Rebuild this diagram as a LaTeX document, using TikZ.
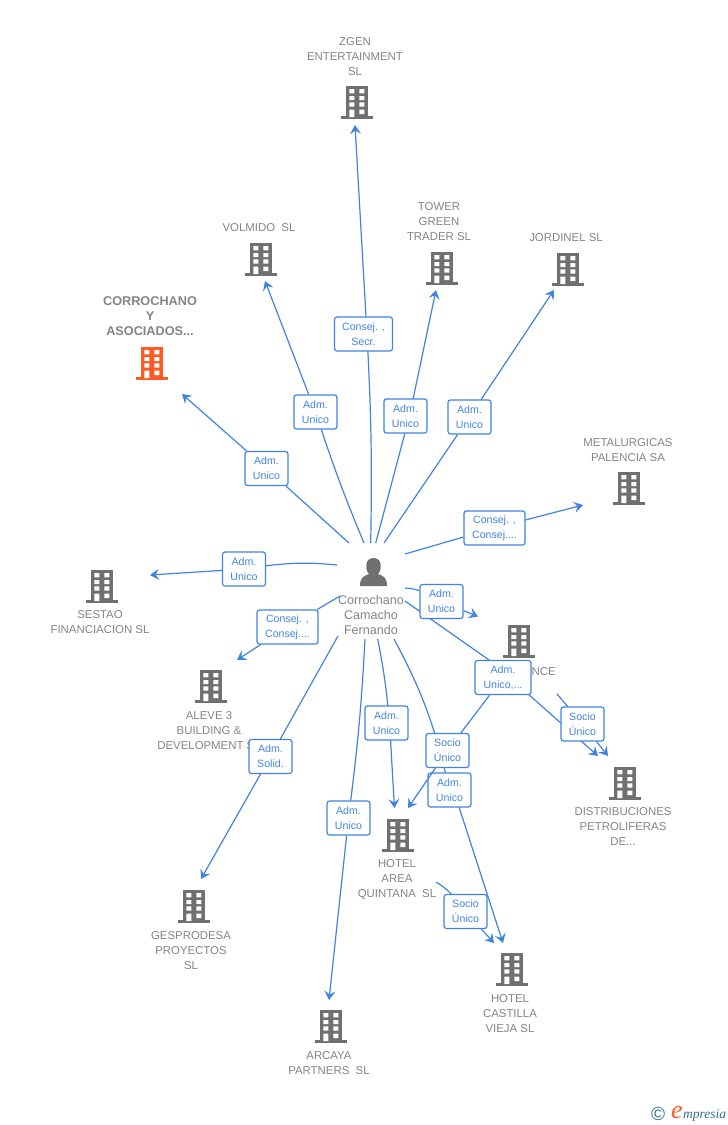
\documentclass[tikz,border=0pt]{standalone}
\usepackage{fontspec}
\usepackage{xcolor}
\usetikzlibrary{arrows.meta}
\setmainfont{Liberation Sans}
\newfontfamily\logofont{Liberation Serif}
\definecolor{link-blue}{HTML}{3F84E3}
\definecolor{firm-gray}{HTML}{707070}
\definecolor{label-gray}{HTML}{858585}
\definecolor{firm-orange}{HTML}{FF5A26}
\definecolor{logo-teal}{HTML}{2F6F8C}
\tikzset{
    link/.style = {draw=link-blue, line width=1.2pt},
    link-end/.style = {link, -{Stealth[length=9pt, width=11pt, inset=3.5pt]}},
    role-box/.style = {draw=link-blue, fill=white, line width=1.2pt, rectangle, rounded corners=2.5pt, minimum width=43pt, minimum height=34pt, inner sep=0pt, align=center, text=link-blue, font=\fontsize{10.6}{15}\selectfont},
    firm-label/.style = {inner sep=0pt, align=center, text=label-gray, font=\fontsize{11.4}{15}\selectfont},
    main-label/.style = {firm-label, font=\fontsize{12.7}{15}\selectfont\bfseries},
    person-label/.style = {firm-label, font=\fontsize{12.6}{15}\selectfont},
    building/.pic = {
        \fill[pic actions] (-11,-33) rectangle (11,-2);
        \fill[pic actions] (-16,-3) rectangle (16,0);
        \fill[white] (-7.7,-30) rectangle (-2.7,-25.7) (2.3,-30) rectangle (7.3,-25.7);
        \fill[white] (-7.7,-23) rectangle (-2.7,-19) (2.3,-23) rectangle (7.3,-19);
        \fill[white] (-7.7,-16.7) rectangle (-2.7,-12.3) (2.3,-16.7) rectangle (7.3,-12.3);
        \fill[white] (-7.7,-9.5) rectangle (-2.7,-2) (2.3,-9.5) rectangle (7.3,-5);
    },
}
\begin{document}
\begin{tikzpicture}[x=1pt, y=-1pt]
\useasboundingbox[fill=white] (0,0) rectangle (728,1125);

\node[firm-label] (zgen) at (355,57) {ZGEN\\ENTERTAINMENT\\SL};
\node[firm-label] (volmido) at (259,228) {VOLMIDO~~SL};
\node[firm-label] (tower) at (439,222) {TOWER\\GREEN\\TRADER SL};
\node[firm-label] (jordinel) at (566,238) {JORDINEL SL};
\node[main-label] (corrochano) at (150,316) {CORROCHANO\\Y\\ASOCIADOS...};
\node[firm-label] (metalurgicas) at (628,450.5) {METALURGICAS\\PALENCIA SA};
\node[firm-label] (sestao) at (100,622.5) {SESTAO\\FINANCIACION SL};
\node[firm-label] (aleve) at (209,731) {ALEVE 3\\BUILDING \&\\DEVELOPMENT S\phantom{L}};
\node[firm-label, anchor=east] (vance) at (556,672) {NCE};
\node[firm-label] (distribuciones) at (623,827) {DISTRIBUCIONES\\PETROLIFERAS\\DE...};
\node[firm-label] (hotel-area) at (397,880) {HOTEL\\AREA\\QUINTANA~~SL};
\node[firm-label] (gesprodesa) at (191,951) {GESPRODESA\\PROYECTOS\\SL};
\node[firm-label] (hotel-castilla) at (510,1014) {HOTEL\\CASTILLA\\VIEJA SL};
\node[firm-label] (arcaya) at (329,1063.5) {ARCAYA\\PARTNERS~~SL};
\node[person-label] (person) at (371,615) {Corrochano\\Camacho\\Fernando};

\pic[fill=firm-gray] (icon-zgen) at (357,119) {building};
\pic[fill=firm-gray] (icon-volmido) at (261,276) {building};
\pic[fill=firm-gray] (icon-tower) at (442,285) {building};
\pic[fill=firm-gray] (icon-jordinel) at (568,286) {building};
\pic[fill=firm-orange] (icon-corrochano) at (152,380) {building};
\pic[fill=firm-gray] (icon-metalurgicas) at (629,505) {building};
\pic[fill=firm-gray] (icon-sestao) at (102,603) {building};
\pic[fill=firm-gray] (icon-aleve) at (211,703) {building};
\pic[fill=firm-gray] (icon-vance) at (519,658) {building};
\pic[fill=firm-gray] (icon-distribuciones) at (625,800) {building};
\pic[fill=firm-gray] (icon-hotel-area) at (398,852) {building};
\pic[fill=firm-gray] (icon-gesprodesa) at (194,923) {building};
\pic[fill=firm-gray] (icon-hotel-castilla) at (512,986) {building};
\pic[fill=firm-gray] (icon-arcaya) at (331,1043) {building};

\fill[firm-gray] (360,586) .. controls (360,577) and (364,576) .. (369,574) .. controls (366,571) and (366,566) .. (366.5,564) .. controls (367,556) and (380,556) .. (380.5,564) .. controls (381,566) and (381,571) .. (378,574) .. controls (383,576) and (387,577) .. (387,586) -- cycle;

\coordinate (start-zgen) at (370.7,543);
\coordinate (via-zgen) at (367,334);
\coordinate (end-zgen) at (355,125);
\coordinate (start-volmido) at (364,543);
\coordinate (end-volmido) at (265,281);
\coordinate (start-tower) at (375.7,543);
\coordinate (via-tower) at (409.5,416);
\coordinate (end-tower) at (436,290);
\coordinate (start-jordinel) at (384,543);
\coordinate (end-jordinel) at (554,290);
\coordinate (start-corrochano) at (349,543);
\coordinate (end-corrochano) at (182,394);
\coordinate (start-metalurgicas) at (405,554);
\coordinate (end-metalurgicas) at (583,505);
\coordinate (start-sestao) at (337,565);
\coordinate (end-sestao) at (150,575);
\coordinate (start-aleve) at (340,596);
\coordinate (end-aleve) at (237,660);
\coordinate (start-gesprodesa) at (338,636);
\coordinate (end-gesprodesa) at (201,879);
\coordinate (start-arcaya) at (365,639);
\coordinate (end-arcaya) at (329,1000);
\coordinate (start-hotel-area) at (377.7,639);
\coordinate (via-hotel-area) at (389.5,723);
\coordinate (end-hotel-area) at (394.5,808);
\coordinate (end-socio-hotel-area) at (408,808);
\coordinate (start-hotel-castilla) at (394,639);
\coordinate (via-hotel-castilla) at (453.5,790);
\coordinate (end-hotel-castilla) at (503,943);
\coordinate (start-socio-castilla) at (436,882);
\coordinate (end-socio-castilla) at (494,943);
\coordinate (start-vance) at (405,588);
\coordinate (end-vance) at (478,616.5);
\coordinate (start-unico) at (405,601);
\coordinate (via-unico-in) at (514,677.5);
\coordinate (via-unico-out) at (509,677);
\coordinate (end-unico) at (598,756);
\coordinate (start-socio-distribuciones) at (557,694);
\coordinate (end-socio-distribuciones) at (608,756);

\draw[link] (start-zgen) to[bend right=2] (via-zgen);
\draw[link-end] (via-zgen) -- (end-zgen);
\draw[link] (start-tower) -- (via-tower);
\draw[link-end] (via-tower) -- (end-tower);
\draw[link] (start-hotel-area) to[bend left=3] (via-hotel-area);
\draw[link-end] (via-hotel-area) -- (end-hotel-area);
\draw[link-end] (via-hotel-castilla) -- (end-hotel-castilla);
\draw[link] (start-unico) -- (via-unico-in);
\draw[link-end] (via-unico-out) -- (end-unico);

\node[role-box, minimum width=58pt] (box-zgen) at (363.5,334) {Consej. ,\\Secr.};
\node[role-box] (box-volmido) at (315.5,412) {Adm.\\Unico};
\node[role-box] (box-tower) at (405.5,416) {Adm.\\Unico};
\node[role-box] (box-jordinel) at (469.5,417) {Adm.\\Unico};
\node[role-box] (box-corrochano) at (266.5,468.5) {Adm.\\Unico};
\node[role-box, minimum width=61pt] (box-metalurgicas) at (494.5,528) {Consej. ,\\Consej....};
\node[role-box] (box-sestao) at (244,569) {Adm.\\Unico};
\node[role-box, minimum width=61pt] (box-aleve) at (287.5,627) {Consej. ,\\Consej....};
\node[role-box] (box-gesprodesa) at (270.5,756.5) {Adm.\\Solid.};
\node[role-box] (box-arcaya) at (348.5,818) {Adm.\\Unico};
\node[role-box] (box-hotel-area) at (386.5,723) {Adm.\\Unico};
\node[role-box] (box-hotel-castilla) at (449.5,790) {Adm.\\Unico};
\node[role-box] (box-vance) at (441.5,601.5) {Adm.\\Unico};
\node[role-box] (box-socio-distribuciones) at (582.5,724) {Socio\\Único};
\node[role-box] (box-socio-castilla) at (465.5,911.5) {Socio\\Único};

\draw[link] (start-hotel-castilla) to[bend left=7] (box-hotel-castilla);
\node[role-box, minimum width=56pt] (box-unico) at (503,677.5) {Adm.\\Unico,...};
\node[role-box] (box-socio-hotel-area) at (447.5,750.5) {Socio\\Único};
\draw[link] (box-unico) -- (box-socio-hotel-area);
\draw[link-end] (box-socio-hotel-area) -- (end-socio-hotel-area);
\draw[link] (start-socio-distribuciones) -- (box-socio-distribuciones);
\draw[link-end] (box-socio-distribuciones) -- (end-socio-distribuciones);

\draw[link] (start-volmido) to[bend left=2] (box-volmido);
\draw[link-end] (box-volmido) -- (end-volmido);
\draw[link] (start-jordinel) -- (box-jordinel);
\draw[link-end] (box-jordinel) -- (end-jordinel);
\draw[link] (start-corrochano) -- (box-corrochano);
\draw[link-end] (box-corrochano) -- (end-corrochano);
\draw[link] (start-metalurgicas) -- (box-metalurgicas);
\draw[link-end] (box-metalurgicas) -- (end-metalurgicas);
\draw[link] (start-sestao) to[bend right=6] (box-sestao);
\draw[link-end] (box-sestao) -- (end-sestao);
\draw[link] (start-aleve) -- (box-aleve);
\draw[link-end] (box-aleve) -- (end-aleve);
\draw[link] (start-gesprodesa) -- (box-gesprodesa);
\draw[link-end] (box-gesprodesa) -- (end-gesprodesa);
\draw[link] (start-arcaya) to[bend left=2] (box-arcaya);
\draw[link-end] (box-arcaya) -- (end-arcaya);
\draw[link] (start-socio-castilla) to[bend left=6] (box-socio-castilla);
\draw[link-end] (box-socio-castilla) -- (end-socio-castilla);
\draw[link] (start-vance) to[bend left=6] (box-vance);
\draw[link-end] (box-vance) -- (end-vance);

\node[inner sep=0pt, text=logo-teal, font=\fontsize{19}{19}\selectfont] (logo-mark) at (658,1114) {©};
\node[inner sep=0pt, anchor=base west, text=firm-orange, font=\logofont\fontsize{26}{26}\selectfont\itshape] (logo-e) at (671,1118) {e};
\node[inner sep=0pt, anchor=base west, text=logo-teal, font=\logofont\fontsize{13.5}{13.5}\selectfont\itshape] (logo-name) at (683,1118) {mpresia};
\end{tikzpicture}
\end{document}
